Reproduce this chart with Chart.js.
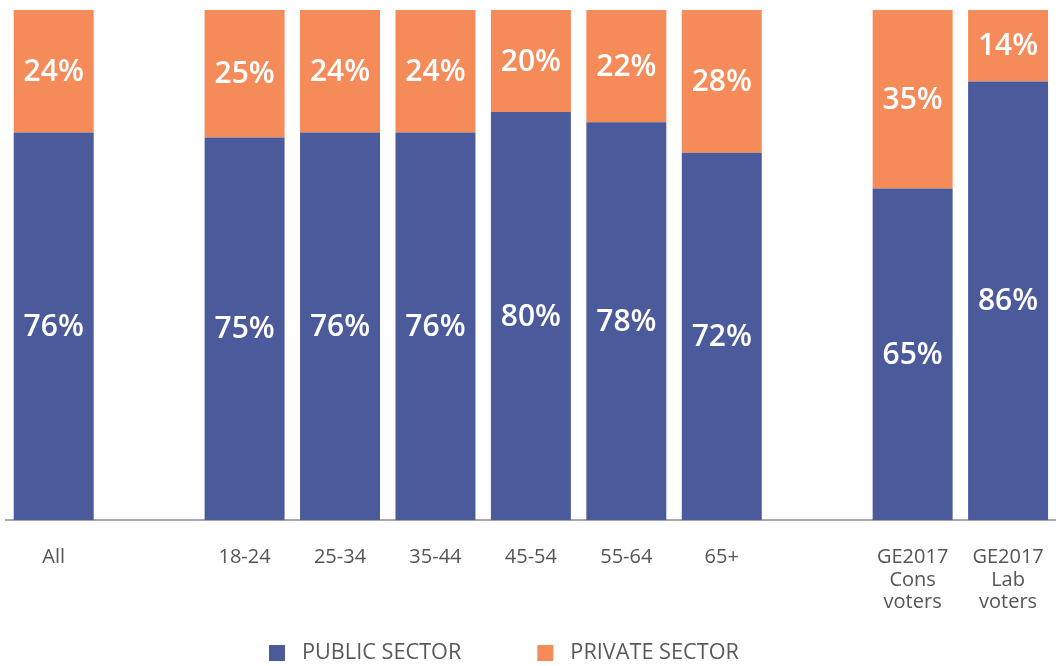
<!DOCTYPE html>
<html>
<head>
<meta charset="utf-8">
<script src="https://cdn.jsdelivr.net/npm/chart.js@4"></script>
<style>
html, body { margin: 0; padding: 0; background: #fff; }
#wrap { width: 1062px; height: 666px; }
</style>
</head>
<body>
<div id="wrap"><canvas id="canvas"></canvas></div>
<script>
// two empty slots make the gaps between the groups
const categories = ['All', '', '18-24', '25-34', '35-44', '45-54', '55-64', '65+', '', ['GE2017', 'Cons', 'voters'], ['GE2017', 'Lab', 'voters']];
const publicSector = [76, null, 75, 76, 76, 80, 78, 72, null, 65, 86];
const privateSector = [24, null, 25, 24, 24, 20, 22, 28, null, 35, 14];
const seriesNames = ['PUBLIC SECTOR', 'PRIVATE SECTOR'];

const BLUE = '#4b5a9b';
const ORANGE = '#f68b5a';
const FONT = '"Open Sans", "DejaVu Sans", sans-serif';

const barLabels = {
    id: 'barLabels',
    afterDatasetsDraw(chart) {
        const ctx = chart.ctx;
        ctx.save();
        ctx.font = '600 30px ' + FONT;
        ctx.fillStyle = '#fff';
        ctx.textAlign = 'center';
        ctx.textBaseline = 'middle';
        chart.data.datasets.forEach((ds, i) => {
            chart.getDatasetMeta(i).data.forEach((bar, j) => {
                const v = ds.data[j];
                if (v == null) return;
                const p = bar.getProps(['x', 'y', 'base'], true);
                ctx.fillText(v + '%', p.x, (p.y + p.base) / 2 + 1);
            });
        });
        ctx.restore();
    }
};

// legend drawn by hand: the boxes sit further from the text than Chart.js allows
const bottomLegend = {
    id: 'bottomLegend',
    afterDraw(chart) {
        const ctx = chart.ctx;
        ctx.save();
        ctx.font = '21.7px ' + FONT;
        ctx.textBaseline = 'middle';
        let x = 269;
        const y = 653;
        chart.data.datasets.forEach(ds => {
            ctx.fillStyle = ds.backgroundColor;
            ctx.fillRect(x, y - 8, 16, 16);
            x += 16 + 17;
            ctx.fillStyle = '#5a5a5a';
            ctx.fillText(ds.label, x, y);
            x += ctx.measureText(ds.label).width + 76;
        });
        ctx.restore();
    }
};

const config = {
    type: 'bar',
    data: {
        labels: categories,
        datasets: [
            {
                label: seriesNames[0],
                data: publicSector,
                backgroundColor: BLUE
            },
            {
                label: seriesNames[1],
                data: privateSector,
                backgroundColor: ORANGE
            }
        ]
    },
    options: {
        responsive: true,
        maintainAspectRatio: false,
        animation: false,
        layout: {
            padding: { left: 6, right: 5, top: 10, bottom: 34 }
        },
        datasets: {
            bar: { barPercentage: 1, categoryPercentage: 0.838 }
        },
        plugins: {
            legend: { display: false },
            tooltip: { enabled: false }
        },
        scales: {
            x: {
                stacked: true,
                grid: { display: false },
                border: { display: true, color: '#a9a9b1', width: 2 },
                ticks: {
                    color: '#555',
                    padding: 18,
                    maxRotation: 0,
                    autoSkip: false,
                    font: { family: FONT, size: 20, lineHeight: 1.13 }
                }
            },
            y: {
                stacked: true,
                display: false,
                min: 0,
                max: 100
            }
        }
    },
    plugins: [barLabels, bottomLegend]
};

new Chart(document.getElementById('canvas'), config);
</script>
</body>
</html>
